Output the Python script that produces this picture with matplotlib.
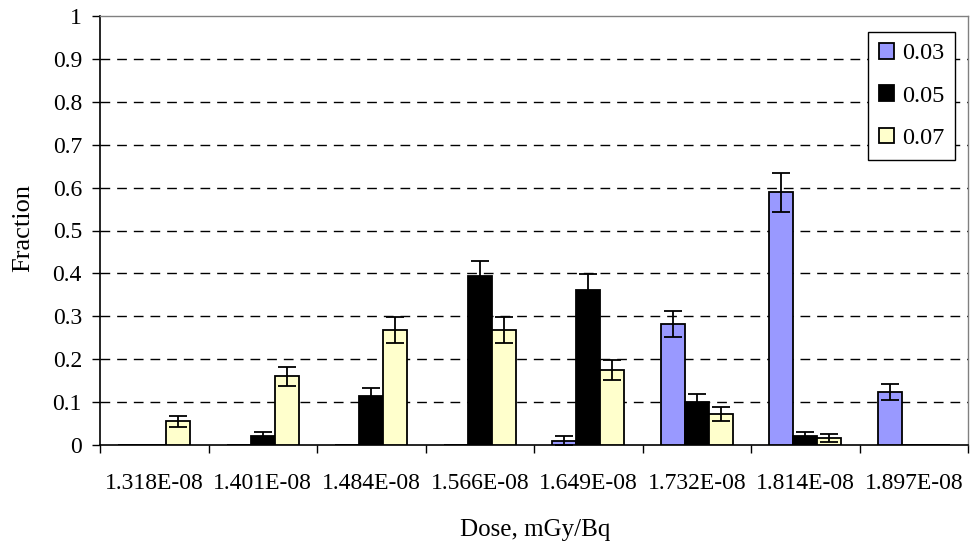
import matplotlib
matplotlib.use("Agg")
import matplotlib.pyplot as plt
import numpy as np

plt.rcParams['font.family'] = ['Liberation Serif', 'DejaVu Serif']

doses = ["1.318E-08", "1.401E-08", "1.484E-08", "1.566E-08",
         "1.649E-08", "1.732E-08", "1.814E-08", "1.897E-08"]
series_names = ["0.03", "0.05", "0.07"]

frac_003 = [0.0, 0.0, 0.0, 0.0, 0.010, 0.282, 0.589, 0.124]
err_003 = [0.0, 0.0, 0.0, 0.0, 0.010, 0.030, 0.046, 0.019]

frac_005 = [0.0, 0.022, 0.115, 0.395, 0.361, 0.100, 0.022, 0.0]
err_005 = [0.0, 0.008, 0.018, 0.035, 0.038, 0.018, 0.008, 0.0]

frac_007 = [0.055, 0.160, 0.268, 0.268, 0.175, 0.072, 0.016, 0.0]
err_007 = [0.012, 0.022, 0.030, 0.030, 0.024, 0.017, 0.009, 0.0]

colors = ["#9999FF", "#000000", "#FFFFCC"]

W, H = 972, 548
fig = plt.figure(figsize=(W / 100, H / 100), dpi=100)
ax = fig.add_axes([100 / W, 1 - 445 / H, 868 / W, 429 / H])

x = np.arange(len(doses))
width = 0.222
values = [frac_003, frac_005, frac_007]
errors = [err_003, err_005, err_007]
for i, (vals, errs, col, name) in enumerate(zip(values, errors, colors, series_names)):
    pos = x + (i - 1) * width
    ax.bar(pos, vals, width=width, color=col, edgecolor="black", linewidth=1.3,
           label=name, zorder=3)
    e = np.array(errs)
    mask = e > 0
    ax.errorbar(pos[mask], np.array(vals)[mask], yerr=e[mask], fmt="none",
                ecolor="black", elinewidth=1.3, capsize=6.5, capthick=1.3, zorder=4)

ax.set_xlim(-0.5, len(doses) - 0.5)
ax.set_ylim(0, 1)
ax.set_yticks(np.arange(0, 1.01, 0.1))
ax.set_yticklabels(["0", "0.1", "0.2", "0.3", "0.4", "0.5", "0.6", "0.7", "0.8", "0.9", "1"])
ax.set_xticks(x)
ax.set_xticklabels(doses)
ax.set_xticks(np.arange(-0.5, len(doses), 1.0), minor=True)
ax.tick_params(axis="x", which="major", length=0, pad=20, labelsize=17)
ax.tick_params(axis="x", which="minor", length=6, width=1, direction="out")
ax.tick_params(axis="y", length=6, width=1, direction="out", labelsize=17, pad=7)

for yv in np.arange(0.1, 0.95, 0.1):
    ax.axhline(yv, color="black", linestyle=(0, (7, 5)), linewidth=1.0, zorder=1)

for side in ["left", "bottom"]:
    ax.spines[side].set_color("black")
    ax.spines[side].set_linewidth(1.2)
for side in ["top", "right"]:
    ax.spines[side].set_color("#808080")
    ax.spines[side].set_linewidth(1.0)

fig.text(535 / W, 1 - 530 / H, "Dose, mGy/Bq", fontsize=18, ha="center", va="center")
fig.text(23 / W, 1 - 228 / H, "Fraction", fontsize=19, ha="center", va="center",
         rotation=90)

leg = ax.legend(loc="upper right", bbox_to_anchor=(955 / W, 1 - 32 / H),
                bbox_transform=fig.transFigure, borderaxespad=0, fontsize=17.5,
                frameon=True, fancybox=False, framealpha=1, edgecolor="black",
                handlelength=0.62, handleheight=0.62, handletextpad=0.3,
                labelspacing=0.86, borderpad=0.45)
leg.get_frame().set_linewidth(1.0)

fig.savefig("out.png", dpi=100)
